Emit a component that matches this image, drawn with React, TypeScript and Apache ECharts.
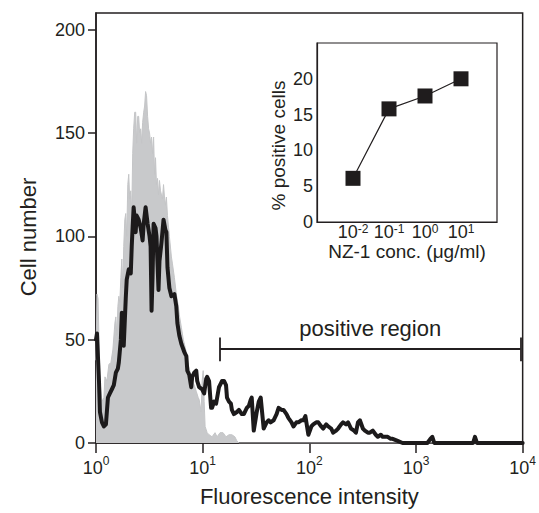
import React, { useEffect, useRef } from "react";
import * as echarts from "echarts";

// Main histogram: x in log10(fluorescence intensity), y = cell number
const controlLogX = [
  0.000, 0.009, 0.019, 0.028, 0.037, 0.056, 0.074, 0.084, 0.102, 0.121, 0.140, 0.158, 0.177, 0.186, 0.195, 0.205,
  0.214, 0.223, 0.233, 0.242, 0.251, 0.260, 0.270, 0.279, 0.288, 0.298, 0.307, 0.316, 0.326, 0.335, 0.344, 0.353,
  0.363, 0.372, 0.381, 0.391, 0.400, 0.409, 0.419, 0.428, 0.437, 0.447, 0.456, 0.465, 0.474, 0.484, 0.493, 0.502,
  0.512, 0.521, 0.530, 0.540, 0.549, 0.558, 0.567, 0.577, 0.586, 0.595, 0.605, 0.614, 0.623, 0.633, 0.642, 0.651,
  0.660, 0.670, 0.688, 0.707, 0.716, 0.735, 0.753, 0.772, 0.781, 0.800, 0.819, 0.837, 0.847, 0.865, 0.884, 0.902,
  0.921, 0.940, 0.958, 0.967, 0.986, 0.995, 1.005, 1.014, 1.023, 1.042, 1.060, 1.088, 1.116, 1.135, 1.163, 1.191,
  1.219, 1.247, 1.274, 1.302, 1.321, 1.340, 4.000,
];
const controlCount = [
  40, 72, 70, 50, 30, 20, 22, 32, 30, 38, 39, 45, 58, 61, 52, 66,
  71, 68, 80, 89, 75, 95, 108, 111, 100, 125, 130, 118, 122, 110, 140, 152,
  160, 160, 145, 158, 158, 150, 152, 145, 155, 160, 163, 170, 168, 158, 152, 150,
  145, 148, 140, 148, 130, 138, 125, 128, 120, 127, 122, 120, 118, 125, 119, 115,
  119, 110, 100, 90, 87, 80, 72, 66, 62, 56, 50, 46, 44, 38, 34, 30,
  28, 25, 22, 21, 15, 30, 35, 20, 8, 5, 4, 3, 5, 3, 5, 5,
  3, 4, 4, 3, 1, 0, 0,
];

const sampleLogX = [
  0.000, 0.009, 0.028, 0.037, 0.056, 0.074, 0.093, 0.112, 0.130, 0.149, 0.167, 0.186, 0.205, 0.214, 0.233, 0.242,
  0.251, 0.260, 0.279, 0.288, 0.307, 0.326, 0.335, 0.344, 0.353, 0.363, 0.372, 0.381, 0.400, 0.419, 0.437, 0.447,
  0.465, 0.484, 0.502, 0.512, 0.521, 0.530, 0.540, 0.558, 0.567, 0.586, 0.595, 0.614, 0.633, 0.651, 0.660, 0.670,
  0.688, 0.707, 0.735, 0.753, 0.763, 0.781, 0.800, 0.828, 0.847, 0.856, 0.874, 0.893, 0.902, 0.921, 0.940, 0.949,
  0.967, 0.995, 1.014, 1.033, 1.042, 1.060, 1.079, 1.088, 1.107, 1.126, 1.153, 1.172, 1.181, 1.200, 1.219, 1.228,
  1.247, 1.265, 1.274, 1.293, 1.321, 1.340, 1.367, 1.386, 1.414, 1.433, 1.451, 1.460, 1.479, 1.498, 1.507, 1.526,
  1.544, 1.572, 1.600, 1.619, 1.637, 1.665, 1.693, 1.712, 1.740, 1.758, 1.786, 1.805, 1.833, 1.851, 1.879, 1.898,
  1.926, 1.944, 1.963, 1.991, 2.019, 2.037, 2.065, 2.084, 2.112, 2.130, 2.158, 2.177, 2.205, 2.223, 2.251, 2.270,
  2.298, 2.316, 2.344, 2.363, 2.391, 2.419, 2.437, 2.456, 2.474, 2.502, 2.521, 2.549, 2.567, 2.595, 2.623, 2.642,
  2.670, 2.688, 2.716, 2.735, 2.763, 2.781, 2.828, 2.874, 3.107, 3.135, 3.153, 3.172, 3.535, 3.553, 3.572, 4.000,
];
const sampleCount = [
  50, 53, 30, 15, 10, 8, 9, 22, 24, 26, 28, 34, 36, 39, 50, 63,
  52, 47, 70, 79, 84, 82, 95, 105, 114, 108, 102, 110, 108, 104, 98, 106,
  114, 106, 100, 95, 64, 80, 106, 104, 100, 74, 88, 97, 108, 103, 102, 85,
  75, 71, 72, 66, 58, 52, 48, 44, 42, 35, 33, 27, 32, 34, 35, 30,
  27, 26, 24, 31, 32, 30, 17, 17, 20, 19, 27, 29, 30, 30, 28, 22,
  20, 19, 16, 14, 15, 16, 14, 14, 17, 18, 21, 22, 6, 12, 15, 20,
  22, 7, 10, 11, 10, 11, 14, 17, 16, 16, 14, 12, 10, 8, 10, 10,
  11, 11, 13, 4, 8, 9, 10, 10, 8, 7, 9, 8, 7, 5, 6, 7,
  9, 10, 9, 10, 7, 6, 5, 10, 11, 7, 6, 5, 5, 6, 4, 3,
  4, 3, 3, 3, 2, 2, 1, 0, 0, 2, 3, 0, 0, 3, 0, 0,
];

const xTickExponents = [0, 1, 2, 3, 4];
const yTickValues = [0, 50, 100, 150, 200];

// Positive region gate (log10 intensity) and its drawing height (cell number)
const gateLogX = [1.163, 3.98];
const gateLevel = [45.5, 39.5, 51];

// Inset: % positive cells vs NZ-1 concentration
const insetConc = [0.01, 0.1, 1, 10];
const insetPercent = [6.1, 15.8, 17.6, 20.0];
const insetYTicks = [0, 5, 10, 15, 20];

const FONT = "'Liberation Sans', Arial, Helvetica, sans-serif";
const INK = "#231f20";

function zip(a: number[], b: number[]) {
  return a.map((v, i) => [v, b[i]]);
}

export default function App() {
  const ref = useRef<HTMLDivElement>(null);
  useEffect(() => {
    if (!ref.current) return;
    const chart = echarts.init(ref.current, undefined, { renderer: "svg" });
    const supRich = {
      b: { fontSize: 18, fontFamily: FONT, color: INK, lineHeight: 22, verticalAlign: "bottom" },
      s: { fontSize: 12, fontFamily: FONT, color: INK, lineHeight: 22, verticalAlign: "top" },
    };
    const insetRich = {
      b: { fontSize: 18, fontFamily: FONT, color: INK, lineHeight: 18, verticalAlign: "bottom" },
      s: { fontSize: 12, fontFamily: FONT, color: INK, lineHeight: 18, verticalAlign: "top" },
    };
    const option: any = {
      animation: false,
      backgroundColor: "#ffffff",
      textStyle: { fontFamily: FONT, color: INK },
      grid: [
        {
          left: 96, top: 13, right: 12, bottom: 70,
          show: true, borderColor: INK, borderWidth: 1.5, backgroundColor: "transparent",
        },
        {
          left: 317, top: 43, width: 180, height: 179,
          show: true, borderColor: INK, borderWidth: 1.2, backgroundColor: "transparent",
        },
      ],
      xAxis: [
        {
          gridIndex: 0, type: "value", min: 0, max: 4, interval: 1,
          axisLine: { show: true, lineStyle: { color: INK, width: 1.5 } },
          axisTick: { show: true, inside: false, length: 10, lineStyle: { color: INK, width: 1.5 },
            customValues: xTickExponents },
          axisLabel: {
            customValues: xTickExponents,
            margin: 12,
            formatter: (v: number) => `{b|10}{s|${v}}`,
            rich: supRich,
          },
          splitLine: { show: false },
          name: "Fluorescence intensity", nameLocation: "middle", nameGap: 42,
          nameTextStyle: { fontSize: 22, fontFamily: FONT, color: INK },
        },
        {
          gridIndex: 1, type: "log", logBase: 10, min: 0.001, max: 100,
          axisLine: { show: true, lineStyle: { color: INK, width: 1.2 } },
          axisTick: { show: false },
          minorTick: { show: false },
          axisLabel: {
            margin: 1,
            formatter: (v: number) => {
              const e = Math.round(Math.log10(v));
              if (e < -2 || e > 1) return "";
              return `{b|10}{s|${e}}`;
            },
            rich: insetRich,
          },
          splitLine: { show: false },
          name: "NZ-1 conc. (μg/ml)", nameLocation: "middle", nameGap: 16,
          nameTextStyle: { fontSize: 19, fontFamily: FONT, color: INK, verticalAlign: "middle" },
        },
      ],
      yAxis: [
        {
          gridIndex: 0, type: "value", min: 0, max: 208, interval: 50,
          axisLine: { show: true, lineStyle: { color: INK, width: 1.5 } },
          axisTick: { show: true, inside: false, length: 8, lineStyle: { color: INK, width: 1.5 },
            customValues: yTickValues },
          axisLabel: {
            customValues: yTickValues,
            margin: 11, fontSize: 18, fontFamily: FONT, color: INK,
            formatter: (v: number) => (v % 50 === 0 && v <= 200 ? String(v) : ""),
          },
          splitLine: { show: false },
          name: "Cell number", nameLocation: "middle", nameGap: 57,
          nameTextStyle: { fontSize: 22, fontFamily: FONT, color: INK, padding: [0, 18, 0, 0] },
        },
        {
          gridIndex: 1, type: "value", min: 0, max: 25, interval: 5,
          axisLine: { show: true, lineStyle: { color: INK, width: 1.2 } },
          axisTick: { show: false },
          axisLabel: {
            margin: 4, fontSize: 18, fontFamily: FONT, color: INK,
            formatter: (v: number) => (insetYTicks.includes(v) ? String(v) : ""),
          },
          splitLine: { show: false },
          name: "% positive cells", nameLocation: "middle", nameGap: 29,
          nameTextStyle: { fontSize: 19, fontFamily: FONT, color: INK, padding: [0, 26, 0, 0] },
        },
      ],
      series: [
        {
          type: "line", xAxisIndex: 0, yAxisIndex: 0,
          data: zip(controlLogX, controlCount),
          showSymbol: false, symbol: "none",
          lineStyle: { color: "#c4c5c7", width: 1 },
          areaStyle: { color: "#c8c9cb", opacity: 1 },
          silent: true,
          z: 1,
        },
        {
          type: "line", xAxisIndex: 0, yAxisIndex: 0,
          data: zip(sampleLogX, sampleCount),
          showSymbol: false, symbol: "none",
          clip: false,
          lineStyle: { color: "#1c1a1b", width: 4, join: "round", cap: "round" },
          silent: true,
          z: 3,
          markLine: {
            silent: true,
            symbol: ["none", "none"],
            lineStyle: { color: INK, width: 1.8, type: "solid" },
            label: { show: false },
            data: [
              [
                {
                  name: "positive region",
                  coord: [gateLogX[0], gateLevel[0]],
                  label: {
                    show: true, position: "insideMiddleTop", formatter: "{b}", distance: 9,
                    fontSize: 22, fontFamily: FONT, color: INK,
                  },
                },
                { coord: [gateLogX[1], gateLevel[0]] },
              ],
              [{ coord: [gateLogX[0], gateLevel[1]] }, { coord: [gateLogX[0], gateLevel[2]] }],
              [{ coord: [gateLogX[1], gateLevel[1]] }, { coord: [gateLogX[1], gateLevel[2]] }],
            ],
          },
        },
        {
          type: "line", xAxisIndex: 1, yAxisIndex: 1,
          data: zip(insetConc, insetPercent),
          symbol: "rect", symbolSize: 15,
          itemStyle: { color: "#1f1c1d" },
          lineStyle: { color: INK, width: 1.2 },
          silent: true,
          z: 5,
        },
      ],
    };
    chart.setOption(option);
    return () => chart.dispose();
  }, []);
  return (
    <div
      ref={ref}
      style={{ position: "fixed", left: 0, top: 0, width: 539, height: 513, background: "#fff" }}
    />
  );
}
